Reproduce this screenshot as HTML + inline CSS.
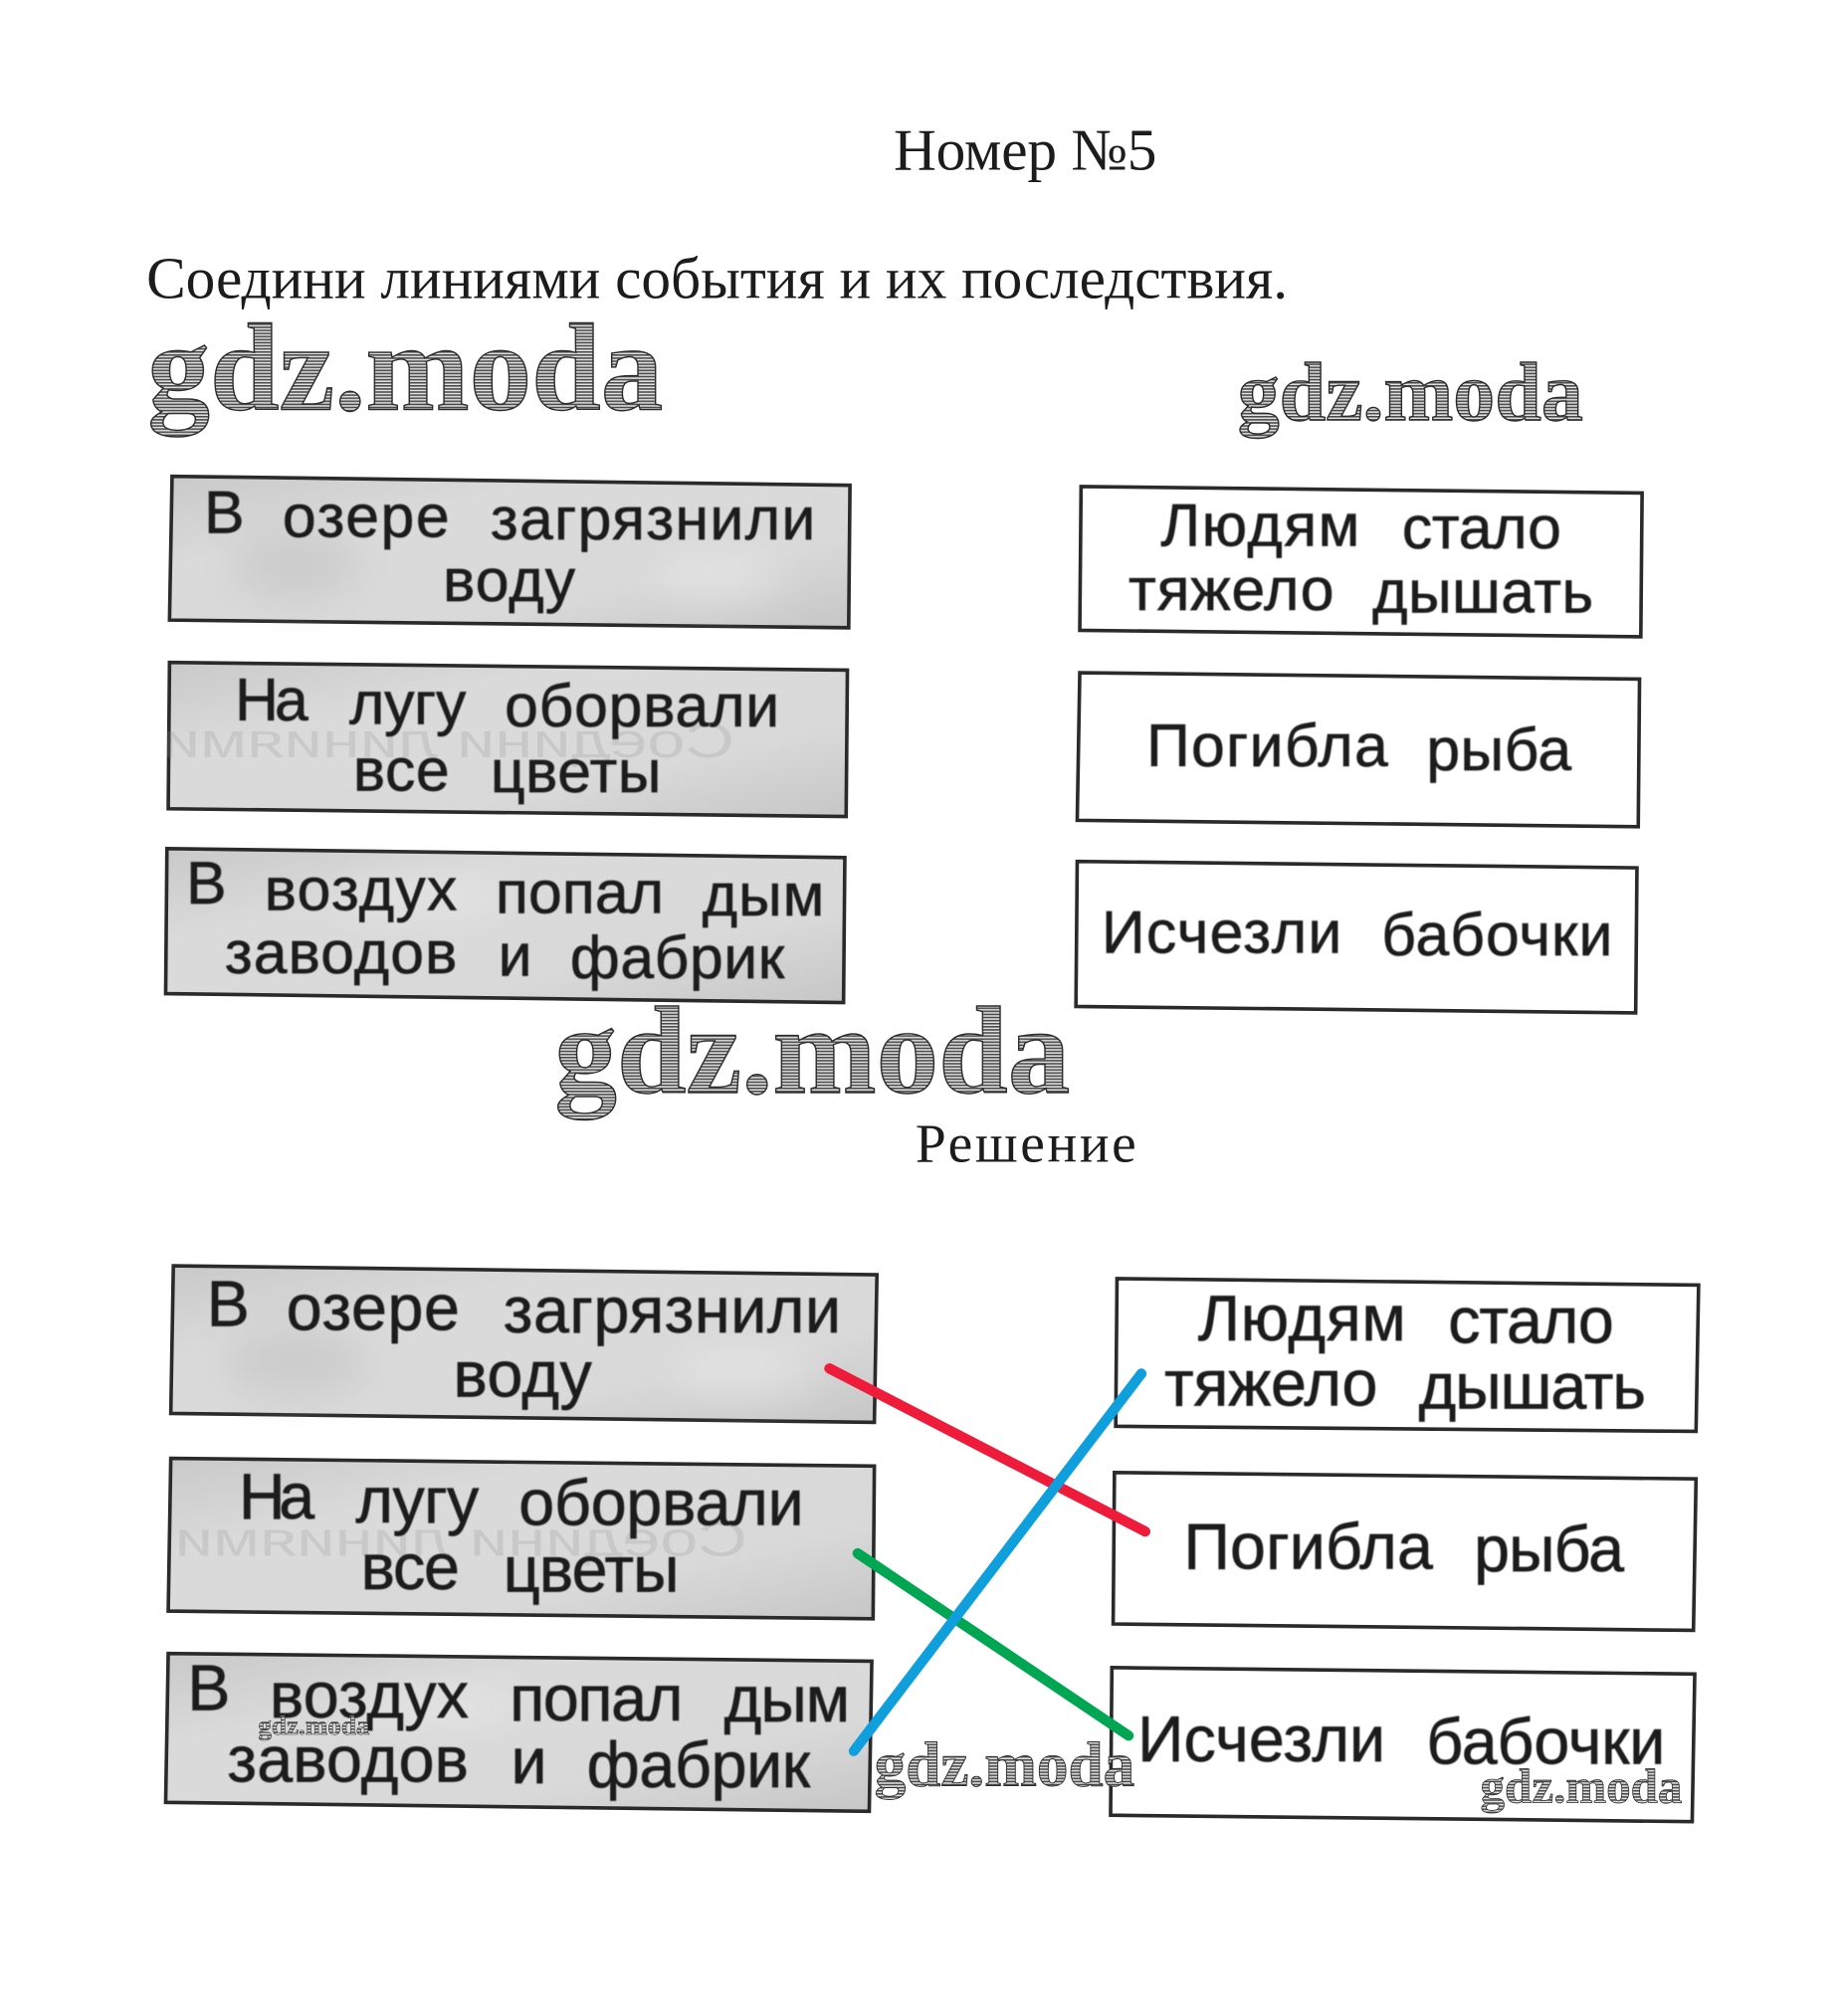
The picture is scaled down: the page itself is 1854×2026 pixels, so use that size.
<!DOCTYPE html>
<html lang="ru"><head><meta charset="utf-8"><title>Номер №5</title>
<style>html,body{margin:0;padding:0;background:#fff}svg{display:block}
.s{font-family:"Liberation Serif",serif;fill:#1c1c1c}
.t{font-family:"Liberation Sans",sans-serif;font-size:47px;fill:#1f1f1f;stroke:#1f1f1f;stroke-width:.5}
.t2{font-size:50px}
.g{fill:url(#gb);stroke:#2a2a2a;stroke-width:2.8}
.w{fill:#fff;stroke:#2a2a2a;stroke-width:2.8}
.m{font-family:"Liberation Serif",serif;font-weight:bold;fill:url(#h);stroke:#2c2c2c;stroke-width:1.1}
.gh{font-family:"Liberation Sans",sans-serif;font-size:38px;fill:#8f8f8f;opacity:.22}
</style></head><body>
<svg xmlns="http://www.w3.org/2000/svg" width="1854" height="2026" viewBox="0 0 1437 1570.4">
<defs>
<pattern id="h" width="4" height="2.4" patternUnits="userSpaceOnUse"><rect width="4" height="2.4" fill="#e0e0e0"/><rect width="4" height="1.2" fill="#4a4a4a"/></pattern>
<linearGradient id="gb" x1="0" x2="1" y1="0" y2="1"><stop offset="0" stop-color="#c9c9c9"/><stop offset=".3" stop-color="#dadada"/><stop offset=".7" stop-color="#d9d9d9"/><stop offset="1" stop-color="#c6c6c6"/></linearGradient>
<filter id="bl" x="-30%" y="-30%" width="160%" height="160%"><feGaussianBlur stdDeviation="14"/></filter>
<filter id="sf" x="-5%" y="-20%" width="110%" height="140%"><feGaussianBlur stdDeviation=".45"/></filter>
</defs>
<rect width="1437" height="1570.4" fill="#fff"/>

<text class="s" x="696" y="132" font-size="46" textLength="205">Номер №5</text>
<text class="s" x="114" y="232" font-size="46" textLength="889">Соедини линиями события и их последствия.</text>
<text class="s" x="713" y="905" font-size="43" textLength="172">Решение</text>

<polygon class="g" points="134,371 662,378 661,489 132,483"/>
<polygon class="g" points="132,516 660,522 659,636 131,630"/>
<polygon class="g" points="130,661 658,668 657,781 129,774"/>
<polygon class="w" points="842,379 1279,384 1278,496 841,491"/>
<polygon class="w" points="841,524 1277,529 1276,644 839,639"/>
<polygon class="w" points="839,671 1275,676 1274,789 838,784"/>

<polygon class="g" points="135,986 683,993 681,1108 133,1101"/>
<polygon class="g" points="133,1136 681,1142 680,1261 131,1255"/>
<polygon class="g" points="131,1288 679,1294 677,1411 129,1404"/>
<polygon class="w" points="870,996 1323,1001 1321,1115 869,1111"/>
<polygon class="w" points="868,1147 1321,1152 1319,1270 867,1265"/>
<polygon class="w" points="866,1299 1320,1304 1318,1419 865,1414"/>

<g filter="url(#bl)" opacity=".45">
<ellipse cx="230" cy="440" rx="50" ry="28" fill="#bdbdbd"/><ellipse cx="560" cy="450" rx="50" ry="20" fill="#ececec"/>
<ellipse cx="230" cy="1060" rx="55" ry="28" fill="#bdbdbd"/><ellipse cx="580" cy="1070" rx="55" ry="20" fill="#ececec"/>
<ellipse cx="330" cy="700" rx="70" ry="16" fill="#ececec"/><ellipse cx="340" cy="1330" rx="70" ry="16" fill="#ececec"/>
</g>

<text class="gh" transform="translate(572,590) scale(-1.4,1)">Соедини линиями</text>
<text class="gh" transform="translate(582,1212) scale(-1.4,1)">Соедини линиями</text>

<g filter="url(#sf)">
<g class="t">
<text x="159" y="415" textLength="29">В</text><text x="220" y="418" textLength="130">озере</text><text x="382" y="420" textLength="253">загрязнили</text><text x="345" y="468" textLength="103">воду</text>
<text x="183" y="561" textLength="57">На</text><text x="272" y="564" textLength="91">лугу</text><text x="393" y="566" textLength="214">оборвали</text><text x="275" y="616" textLength="75">все</text><text x="382" y="617" textLength="133">цветы</text>
<text x="145" y="704" textLength="30">В</text><text x="206" y="709" textLength="150">воздух</text><text x="386" y="711" textLength="131">попал</text><text x="547" y="713" textLength="95">дым</text>
<text x="175" y="758" textLength="181">заводов</text><text x="388" y="760" textLength="26">и</text><text x="444" y="762" textLength="167">фабрик</text>
<text x="904" y="425" textLength="155">Людям</text><text x="1092" y="427" textLength="124">стало</text><text x="879" y="475" textLength="160">тяжело</text><text x="1069" y="477" textLength="172">дышать</text>
<text x="893" y="597" textLength="188">Погибла</text><text x="1111" y="600" textLength="113">рыба</text>
<text x="858" y="742" textLength="187">Исчезли</text><text x="1076" y="744" textLength="180">бабочки</text>
</g>
<g class="t t2">
<text x="161" y="1033" textLength="30">В</text><text x="223" y="1036" textLength="135">озере</text><text x="392" y="1038" textLength="263">загрязнили</text><text x="353" y="1088" textLength="108">воду</text>
<text x="186" y="1183" textLength="59">На</text><text x="277" y="1186" textLength="96">лугу</text><text x="404" y="1188" textLength="222">оборвали</text><text x="281" y="1238" textLength="77">все</text><text x="392" y="1240" textLength="137">цветы</text>
<text x="146" y="1332" textLength="31">В</text><text x="210" y="1338" textLength="155">воздух</text><text x="397" y="1340" textLength="135">попал</text><text x="564" y="1341" textLength="98">дым</text>
<text x="177" y="1388" textLength="188">заводов</text><text x="398" y="1389" textLength="26">и</text><text x="457" y="1392" textLength="174">фабрик</text>
<text x="933" y="1044" textLength="162">Людям</text><text x="1128" y="1046" textLength="129">стало</text><text x="907" y="1095" textLength="166">тяжело</text><text x="1105" y="1097" textLength="177">дышать</text>
<text x="922" y="1222" textLength="194">Погибла</text><text x="1148" y="1224" textLength="117">рыба</text>
<text x="886" y="1372" textLength="193">Исчезли</text><text x="1111" y="1374" textLength="186">бабочки</text>
</g>
</g>

<g stroke-width="8" stroke-linecap="round" fill="none">
<line x1="646" y1="1066" x2="892" y2="1193" stroke="#ee1c3a"/>
<line x1="668" y1="1210" x2="879" y2="1352" stroke="#00a651"/>
<line x1="889" y1="1070" x2="665" y2="1364" stroke="#0f9fdc"/>
</g>

<text class="m" x="115" y="319" font-size="97">gdz.moda</text>
<text class="m" x="964" y="327" font-size="65">gdz.moda</text>
<text class="m" x="432" y="851" font-size="97">gdz.moda</text>
<text class="m" x="201" y="1351" font-size="21" style="stroke-width:.4">gdz.moda</text>
<text class="m" x="681" y="1391" font-size="49" style="stroke-width:.7">gdz.moda</text>
<text class="m" x="1153" y="1404" font-size="38" style="stroke-width:.6">gdz.moda</text>
</svg>
</body></html>
